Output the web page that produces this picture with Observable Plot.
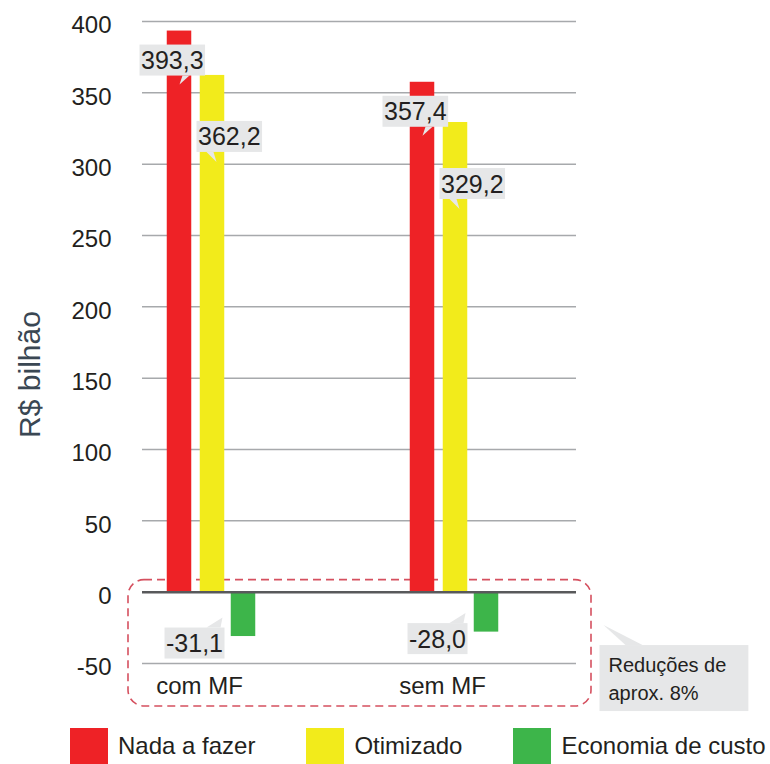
<!DOCTYPE html>
<html>
<head>
<meta charset="utf-8">
<script src="https://cdn.jsdelivr.net/npm/d3@7"></script>
<script src="https://cdn.jsdelivr.net/npm/@observablehq/plot@0.6"></script>
<style>
  html, body { margin: 0; padding: 0; background: #fff; }
  body { width: 770px; height: 764px; overflow: hidden; font-family: "Liberation Sans", Arial, sans-serif; color: #231f20; }
  #legend { display: flex; align-items: center; height: 44px; padding-top: 8px; box-sizing: border-box; padding-left: 70px; gap: 51px; font-size: 24px; }
  #legend .item { display: flex; align-items: center; gap: 10px; }
  #legend .sw { width: 38px; height: 36px; }
</style>
</head>
<body>
<div id="chart"></div>
<div id="legend"></div>
<script>
// ---- data ----
const categories = ["com MF", "sem MF"];
const series = ["Nada a fazer", "Otimizado", "Economia de custo"];
const nadaAFazer = [393.3, 357.4];
const otimizado = [362.2, 329.2];
const economiaDeCusto = [-31.1, -28.0];
const colors = ["#ee2226", "#f2eb1b", "#3db54a"];
const yTicks = [-50, 0, 50, 100, 150, 200, 250, 300, 350, 400];
const yLabel = "R$ bilhão";
const noteText = "Reduções de\naprox. 8%";

(function () {
// ---- layout / style ----
const W = 770, H = 720;
const mL = 142, mR = 194, mT = 21, mB = 57;
const barWidth = 24;
const barDx = [-32, 1, 32];
const ink = "#231f20";
const boxFill = "#e6e7e8";

const valuesBySeries = [nadaAFazer, otimizado, economiaDeCusto];
const rows = categories.flatMap((c, i) =>
  series.map((s, j) => ({category: c, series: s, value: valuesBySeries[j][i]}))
);
const fmt = v => d3.format(".1f")(v).replace(".", ",").replace("−", "-");

// band scale: step 243, bandwidth 121.5
const xRange = [28.75, 636.25];
const bandW = (xRange[1] - xRange[0]) / 2.5 * 0.5;
const inset = (bandW - barWidth) / 2;

const labelStyle = [
  {textAnchor: "start", dx: barDx[0] - 38.5, dy: 30},
  {textAnchor: "start", dx: barDx[1] - 14.5, dy: 62},
  {textAnchor: "end", dx: barDx[2] - 20.5, dy: 7.5}
];

const marks = [
  Plot.ruleY(yTicks.filter(d => d !== 0), {stroke: "#a7a9ac", strokeWidth: 1.5}),
  ...series.map((s, j) => Plot.barY(rows.filter(r => r.series === s), {
    x: "category", y: "value", fill: colors[j], dx: barDx[j], insetLeft: inset, insetRight: inset
  })),
  Plot.ruleY([0], {stroke: "#58595b", strokeWidth: 2.5}),
  ...series.map((s, j) => Plot.text(rows.filter(r => r.series === s), {
    x: "category", y: "value", text: d => fmt(d.value), fill: ink, fontSize: 25,
    textAnchor: labelStyle[j].textAnchor, lineAnchor: "middle", dx: labelStyle[j].dx, dy: labelStyle[j].dy,
    ariaDescription: "vlabel-" + j
  })),
  Plot.axisY({ticks: yTicks, tickSize: 0, tickPadding: 31, dy: 4, fontSize: 24, label: null, tickFormat: d => String(d)}),
  Plot.axisX({tickSize: 0, tickPadding: 13, dx: -12, fontSize: 24, label: null}),
  Plot.text([yLabel], {frameAnchor: "left", textAnchor: "middle", lineAnchor: "middle", rotate: -90, dx: -112, dy: 32, fontSize: 30, fill: "#3a4753"}),
  Plot.text([noteText], {frameAnchor: "bottom-right", textAnchor: "start", lineAnchor: "middle", dx: 32, dy: 13.6, fontSize: 20, lineHeight: 1.4, fill: ink, ariaDescription: "note"})
];

const svg = Plot.plot({
  width: W, height: H,
  marginLeft: mL, marginRight: mR, marginTop: mT, marginBottom: mB,
  style: {fontFamily: "'Liberation Sans', Arial, sans-serif", fontSize: "24px", color: ink, background: "#fff"},
  x: {type: "band", domain: categories, range: xRange, padding: 0.5},
  y: {domain: [-50, 400]},
  marks
});
document.getElementById("chart").append(svg);

// ---- decorations: callout boxes ----
const NS = "http://www.w3.org/2000/svg";
function addCallout(label, pads, pointer) {
  svg.querySelectorAll(`g[aria-description="${label}"] text`).forEach(t => {
    const b = t.getBBox();
    const L = b.x - pads[0], R = b.x + b.width + pads[1], T = b.y - pads[2], B = b.y + b.height + pads[3];
    const tr = t.getAttribute("transform");
    const rect = document.createElementNS(NS, "rect");
    rect.setAttribute("x", L); rect.setAttribute("y", T);
    rect.setAttribute("width", R - L); rect.setAttribute("height", B - T);
    rect.setAttribute("fill", boxFill);
    const poly = document.createElementNS(NS, "polygon");
    poly.setAttribute("points", pointer(L, R, T, B).map(p => p.join(",")).join(" "));
    poly.setAttribute("fill", boxFill);
    if (tr) { rect.setAttribute("transform", tr); poly.setAttribute("transform", tr); }
    t.parentNode.insertBefore(poly, t);
    t.parentNode.insertBefore(rect, t);
  });
}
addCallout("vlabel-0", [1.5, 1.5, 1.5, 1.5], (L, R, T, B) => [[L + 43, B], [L + 50, B], [L + 40, B + 9]]);
addCallout("vlabel-1", [1.5, 1.5, 1.5, 1.5], (L, R, T, B) => [[L + 10, B], [L + 17, B], [L + 20, B + 10]]);
addCallout("vlabel-2", [1.5, 1.5, 1.5, 1.5], (L, R, T, B) => [[R - 18, T], [R - 4, T], [R - 2, T - 10]]);
addCallout("note", [9, 22, 9, 7], (L, R, T, B) => [[L + 26, T], [L + 43, T], [L + 4, T - 20]]);

// ---- dashed highlight around the negative region ----
const ys = svg.scale("y");
const boxTop = ys.apply(0) - 12, boxBottom = ys.apply(-50) + 43;
const boxLeft = mL - 14, boxRight = W - mR + 15;
const dash = document.createElementNS(NS, "rect");
dash.setAttribute("x", boxLeft); dash.setAttribute("y", boxTop);
dash.setAttribute("width", boxRight - boxLeft); dash.setAttribute("height", boxBottom - boxTop);
dash.setAttribute("rx", 16); dash.setAttribute("ry", 16);
dash.setAttribute("fill", "none"); dash.setAttribute("stroke", "#d5505f");
dash.setAttribute("stroke-width", 1.6); dash.setAttribute("stroke-dasharray", "8,5");
const firstG = svg.querySelector(":scope > g");
svg.insertBefore(dash, firstG);

// ---- legend ----
const legend = d3.select("#legend");
series.forEach((s, j) => {
  const it = legend.append("div").attr("class", "item");
  it.append("div").attr("class", "sw").style("background", colors[j]);
  it.append("span").text(s);
});
})();
</script>
</body>
</html>
